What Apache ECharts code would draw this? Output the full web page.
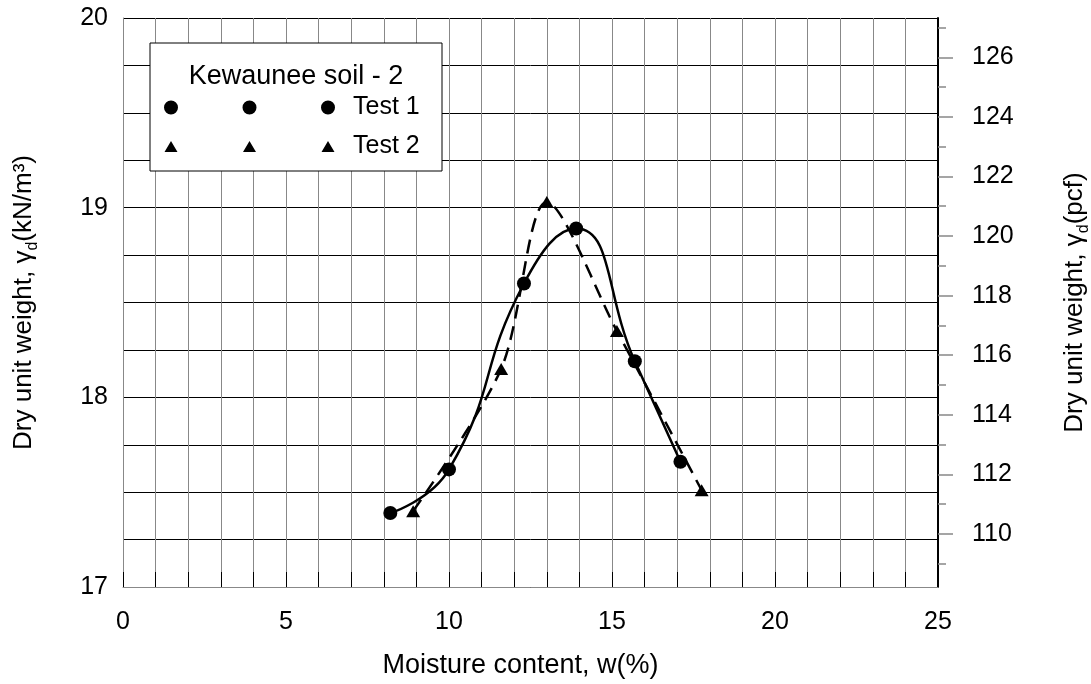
<!DOCTYPE html>
<html>
<head>
  <meta charset="utf-8">
  <title>Compaction curves</title>
  <style>
    html, body { margin: 0; background: #fff; }
    #myChart { width: 1091px; height: 684px; }
  </style>
</head>
<body>
  <div id="myChart"></div>
  <script src="https://cdn.jsdelivr.net/npm/echarts@6/dist/echarts.min.js"></script>
  <script>
    // moisture content (%) and dry unit weight (kN/m3)
    const test1W = [8.2, 10.0, 12.3, 13.9, 15.7, 17.1];
    const test1G = [17.39, 17.62, 18.60, 18.89, 18.19, 17.66];
    const test2W = [8.9, 11.6, 13.0, 15.15, 17.75];
    const test2G = [17.40, 18.15, 19.03, 18.35, 17.51];
    const seriesNames = ['Test 1', 'Test 2'];
    const pcfLabels = [110, 112, 114, 116, 118, 120, 122, 124, 126];
    const pcfMinor = [109, 111, 113, 115, 117, 119, 121, 123, 125, 127];
    const KN_TO_PCF = 6.3659;

    const font = "'Liberation Sans', Arial, sans-serif";
    const myChart = echarts.init(document.getElementById('myChart'));

    // legend icons: three markers in a row
    const cx = [7, 85.5, 164];
    const circleIcon = 'path://' + cx.map(c =>
      `M${c - 7} 7 a7 7 0 1 0 14 0 a7 7 0 1 0 -14 0 Z`).join(' ');
    const triIcon = 'path://M0 0 M171 14 ' + cx.map(c =>
      `M${c} 1.5 L${c + 6.5} 12.5 L${c - 6.5} 12.5 Z`).join(' ');

    const nameStyle = {
      fontFamily: font,
      fontSize: 26,
      color: '#000',
      rich: {
        n: { fontFamily: font, fontSize: 26, color: '#000' },
        sub: { fontFamily: font, fontSize: 16, color: '#000', padding: [18, 0, 0, 0] }
      }
    };

    const option = {
      animation: false,
      backgroundColor: '#fff',
      textStyle: { fontFamily: font },
      grid: { left: 123, right: 153, top: 18, bottom: 97, outerBoundsMode: 'none' },
      graphic: [{
        type: 'rect',
        z: 3,
        shape: { x: 150, y: 43, width: 292, height: 128 },
        style: { fill: '#fff', stroke: '#000', lineWidth: 1 }
      }, {
        type: 'text',
        z: 4,
        x: 296,
        y: 77,
        style: {
          text: 'Kewaunee soil - 2',
          fontFamily: font,
          fontSize: 27,
          fill: '#000',
          align: 'center',
          verticalAlign: 'middle'
        }
      }],
      legend: {
        orient: 'vertical',
        left: 164,
        top: 95,
        padding: 0,
        itemGap: 14,
        itemWidth: 171,
        itemHeight: 14,
        z: 5,
        textStyle: { fontFamily: font, fontSize: 25, color: '#000', padding: [0, 0, 0, 13] },
        data: [
          { name: seriesNames[0], icon: circleIcon },
          { name: seriesNames[1], icon: triIcon }
        ]
      },
      xAxis: {
        type: 'value',
        min: 0,
        max: 25,
        interval: 1,
        name: 'Moisture content, w(%)',
        nameLocation: 'middle',
        nameGap: 65,
        nameTextStyle: { fontFamily: font, fontSize: 27, color: '#000', padding: [0, 20, 0, 0] },
        axisLine: { lineStyle: { color: '#888', width: 1 } },
        axisTick: { inside: true, length: 15, lineStyle: { color: '#000', width: 1 } },
        axisLabel: {
          margin: 23,
          fontSize: 25,
          color: '#000',
          formatter: v => (v % 5 === 0 ? String(v) : '')
        },
        splitLine: { show: true, lineStyle: { color: '#888', width: 1 } }
      },
      yAxis: [{
        type: 'value',
        position: 'left',
        min: 17,
        max: 20,
        interval: 0.25,
        name: '{n|Dry unit weight, γ}{sub|d}{n|(kN/m³)}',
        nameLocation: 'middle',
        nameGap: 82,
        nameTextStyle: nameStyle,
        axisLine: { show: true, lineStyle: { color: '#888', width: 1 } },
        axisTick: { show: false },
        axisLabel: {
          margin: 15,
          fontSize: 25,
          color: '#000',
          formatter: v => (Number.isInteger(v) ? String(v) : '')
        },
        splitLine: { show: true, lineStyle: { color: '#000', width: 1 } }
      }, {
        type: 'value',
        position: 'right',
        min: 17 * KN_TO_PCF,
        max: 20 * KN_TO_PCF,
        name: '{n|Dry unit weight, γ}{sub|d}{n|(pcf)}',
        nameLocation: 'middle',
        nameGap: 120,
        nameTextStyle: nameStyle,
        axisLine: { show: true, onZero: false, lineStyle: { color: '#000', width: 2 } },
        axisTick: { show: true, customValues: pcfLabels, length: 15, lineStyle: { color: '#888', width: 1.5 } },
        axisLabel: { customValues: pcfLabels, margin: 34, fontSize: 25, color: '#000' },
        splitLine: { show: false }
      }, {
        type: 'value',
        position: 'right',
        min: 17 * KN_TO_PCF,
        max: 20 * KN_TO_PCF,
        axisLine: { show: false },
        axisTick: { show: true, customValues: pcfMinor, length: 8, lineStyle: { color: '#888', width: 1.5 } },
        axisLabel: { show: false },
        splitLine: { show: false }
      }],
      series: [{
        name: seriesNames[0],
        type: 'line',
        smooth: 0.5,
        symbol: 'circle',
        symbolSize: 14,
        itemStyle: { color: '#000' },
        lineStyle: { color: '#000', width: 2.5 },
        data: test1W.map((w, i) => [w, test1G[i]])
      }, {
        name: seriesNames[1],
        type: 'line',
        smooth: 0.3,
        symbol: 'triangle',
        symbolSize: [14, 12],
        itemStyle: { color: '#000' },
        lineStyle: { color: '#000', width: 2.5, type: [14, 8] },
        data: test2W.map((w, i) => [w, test2G[i]])
      }]
    };

    myChart.setOption(option);
  </script>
</body>
</html>
